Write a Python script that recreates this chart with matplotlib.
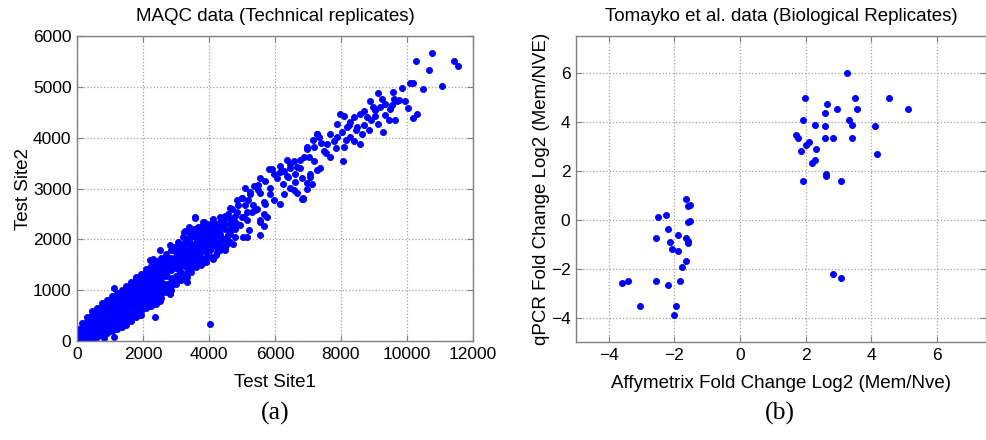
import matplotlib
matplotlib.use("Agg")
import matplotlib.pyplot as plt

# Panel (a): MAQC technical replicates
# dense core of the cloud, column by column (Test Site1, Test Site2)
core_pts = [
    (0, 0), (0, 80), (0, 160), (0, 240),
    (150, 0), (150, 40), (150, 120), (150, 200), (150, 280), (150, 360),
    (300, 0), (300, 80), (300, 160), (300, 240), (300, 320), (300, 400), (300, 480),
    (450, 40), (450, 120), (450, 200), (450, 280), (450, 360), (450, 440), (450, 520), (450, 600),
    (600, 80), (600, 160), (600, 240), (600, 320), (600, 400), (600, 480), (600, 560), (600, 640),
    (750, 120), (750, 200), (750, 280), (750, 360), (750, 440), (750, 520), (750, 600), (750, 680),
    (750, 740),
    (900, 160), (900, 240), (900, 320), (900, 400), (900, 480), (900, 560), (900, 640), (900, 720),
    (900, 800),
    (1050, 200), (1050, 280), (1050, 360), (1050, 440), (1050, 520), (1050, 600), (1050, 680),
    (1050, 760), (1050, 840), (1050, 880),
    (1200, 240), (1200, 320), (1200, 400), (1200, 480), (1200, 560), (1200, 640), (1200, 720),
    (1200, 800), (1200, 880), (1200, 940),
    (1350, 280), (1350, 360), (1350, 440), (1350, 520), (1350, 600), (1350, 680), (1350, 760),
    (1350, 840), (1350, 920), (1350, 1000),
    (1500, 320), (1500, 400), (1500, 480), (1500, 560), (1500, 640), (1500, 720), (1500, 800),
    (1500, 880), (1500, 960), (1500, 1040), (1500, 1090),
    (1650, 400), (1650, 480), (1650, 560), (1650, 640), (1650, 720), (1650, 800), (1650, 880),
    (1650, 960), (1650, 1040), (1650, 1120), (1650, 1170),
    (1800, 480), (1800, 560), (1800, 640), (1800, 720), (1800, 800), (1800, 880), (1800, 960),
    (1800, 1040), (1800, 1120), (1800, 1200), (1800, 1250),
    (1950, 520), (1950, 600), (1950, 680), (1950, 760), (1950, 840), (1950, 920), (1950, 1000),
    (1950, 1080), (1950, 1160), (1950, 1240), (1950, 1320),
    (2100, 640), (2100, 720), (2100, 800), (2100, 880), (2100, 960), (2100, 1040), (2100, 1120),
    (2100, 1200), (2100, 1280), (2100, 1360), (2100, 1410),
    (2250, 680), (2250, 760), (2250, 840), (2250, 920), (2250, 1000), (2250, 1080), (2250, 1160),
    (2250, 1240), (2250, 1320), (2250, 1400), (2250, 1480),
    (2400, 720), (2400, 800), (2400, 880), (2400, 960), (2400, 1040), (2400, 1120), (2400, 1200),
    (2400, 1280), (2400, 1360), (2400, 1440), (2400, 1520), (2400, 1570),
    (2550, 840), (2550, 920), (2550, 1000), (2550, 1080), (2550, 1160), (2550, 1240), (2550, 1320),
    (2550, 1400), (2550, 1480), (2550, 1560), (2550, 1640),
    (2700, 960), (2700, 1040), (2700, 1120), (2700, 1280), (2700, 1360), (2700, 1440),
    (2700, 1520), (2700, 1600), (2700, 1720),
    (2850, 1000), (2850, 1080), (2850, 1160), (2850, 1240), (2850, 1400), (2850, 1480),
    (2850, 1560), (2850, 1640), (2850, 1790),
    (3000, 1120), (3000, 1200), (3000, 1280), (3000, 1440), (3000, 1520), (3000, 1600),
    (3000, 1680), (3000, 1840),
]

# speckled continuation of the core, 3100 to 4800 on Test Site1
band_pts = [
    (3150, 1200), (3150, 1350), (3150, 1500), (3150, 1750),
    (3300, 1300), (3300, 1450), (3300, 1550), (3300, 1700), (3300, 1950),
    (3450, 1350), (3450, 1500), (3450, 1650), (3450, 1850), (3450, 2050),
    (3600, 1450), (3600, 1600), (3600, 1800), (3600, 1900), (3600, 2150),
    (3750, 1500), (3750, 1650), (3750, 1800), (3750, 1950), (3750, 2100),
    (3900, 1550), (3900, 1750), (3900, 1850), (3900, 2100), (3900, 2250),
    (4050, 1650), (4050, 1850), (4050, 1950), (4050, 2300),
    (4200, 1700), (4200, 1900), (4200, 2050), (4200, 2200),
    (4350, 1800), (4350, 1950), (4350, 2100), (4350, 2350),
    (4500, 1850), (4500, 2000), (4500, 2300), (4500, 2450),
    (4650, 1950), (4650, 2100), (4650, 2400),
    (4800, 2050), (4800, 2200), (4800, 2450),
]

# thinner part of the cloud, 2200 to 7300 on Test Site1
mid_pts = [
    (2212, 1598), (2919, 1846), (2818, 941), (2212, 744), (3172, 1256), (3323, 1157), (3374, 1388),
    (2768, 994), (3576, 2425), (3828, 2339), (4687, 2602), (4889, 2667), (3424, 2110), (3222, 2043),
    (2818, 1880), (2515, 1781), (2313, 1618), (4434, 2307), (4636, 2175), (4232, 1978), (4333, 1880),
    (4030, 1781), (3727, 1846), (3525, 1716), (3323, 1650), (3121, 1551), (3828, 1551), (4131, 1618),
    (4485, 1781), (4737, 1913), (3020, 1716), (2717, 1650), (3929, 2043), (3626, 1978), (4182, 2142),
    (4788, 2339), (3424, 1913), (2919, 1781), (2616, 1520), (2414, 1453),
    (3100, 1400), (3200, 1500), (3300, 1800), (3400, 1450), (3500, 1900), (3600, 1700), (3700, 2100),
    (3800, 1800), (3900, 1900), (4000, 2000), (4100, 1850), (4200, 2300), (4300, 2150), (4400, 2000),
    (4500, 2200), (3250, 1650), (3450, 1750), (3650, 1550), (3850, 2000), (4050, 2100), (4250, 1750),
    (4450, 2400), (4650, 2300), (4550, 2050), (3150, 1900), (3350, 2000), (3550, 2200), (3750, 2250),
    (3150, 1650), (3250, 1850), (3400, 1600), (3500, 1450), (3600, 2050), (3700, 1700), (3800, 2000),
    (3950, 2200), (4100, 2000), (4350, 2250), (3050, 1950), (3400, 2250),
    (3273, 2161), (4131, 2405), (4333, 2437), (4636, 2622), (4990, 2819), (5242, 2929), (5495, 3061),
    (5192, 2766), (4838, 2535), (4586, 2504), (4030, 2209), (3828, 2142), (4232, 2110), (4737, 2240),
    (4939, 2274), (5141, 2372), (5394, 2569), (5545, 2372), (5747, 2437), (5697, 2701), (5848, 2897),
    (5899, 3389), (6152, 3323), (6354, 3553), (6404, 3224), (6253, 3094), (6606, 3126), (6808, 2799),
    (6960, 3783), (7162, 3947), (7263, 4078), (7061, 3224), (7263, 3356), (6657, 3421), (6455, 3488),
    (6758, 3553), (5495, 2963), (5343, 2667), (5091, 2667), (4838, 2766), (4990, 2437), (5293, 2535),
    (5545, 2077), (5141, 2043), (4586, 2077), (3929, 2307), (3677, 2240), (3475, 2175),
    (6848, 2803), (7121, 3099), (6970, 3000), (6566, 2967), (6162, 2704), (5960, 2770), (5657, 2737),
    (5677, 2507), (5535, 2342), (5677, 2257), (5455, 2605), (5152, 2539), (5051, 2441), (5030, 2046),
    (5202, 2178), (4848, 2309), (4646, 2178), (4545, 1914), (4343, 2046), (4242, 1849), (4141, 2211),
    (3939, 2046), (3838, 2342), (3586, 2441), (3737, 1914), (3939, 1651), (3535, 1586), (3333, 1257),
    (3253, 2145), (3131, 1783), (2828, 928), (2727, 1355), (2525, 1125), (2525, 796), (2222, 697),
]

# upper end of the cloud
top_pts = [
    (10778, 5664), (10293, 5500), (11424, 5500), (11545, 5414), (10687, 5336), (10101, 5072),
    (10182, 5072), (10505, 4961), (11081, 5020), (9859, 4974), (9596, 4895), (9141, 4882),
    (9253, 4763), (9626, 4763), (9697, 4730), (9768, 4743), (9949, 4717), (10030, 4586),
    (10323, 4467), (10182, 4388), (9465, 4349), (9646, 4349), (9263, 4118), (8990, 4612),
    (8889, 4730), (9192, 4599), (9495, 4566), (9343, 4664), (8687, 4533), (8586, 4467),
    (8788, 4401), (9040, 4434), (9141, 4270), (8384, 4401), (8283, 4303), (8485, 4204),
    (8636, 4072), (8586, 3875), (8081, 4434), (7980, 4467), (7879, 4270), (8182, 4204),
    (8030, 4105), (7879, 4007), (8283, 4007), (8384, 3941), (7778, 3941), (8081, 3809),
    (7576, 3875), (7677, 4072), (7273, 4072), (7323, 4007), (7172, 3809), (7475, 3743),
    (6970, 3809), (7020, 3612), (6869, 3612), (7172, 3546), (7374, 3414), (7677, 3612),
    (8061, 3533), (6768, 3414), (6566, 3546), (6465, 3414), (6616, 3283), (6364, 3250),
    (6263, 3349), (6162, 3447), (6061, 3217), (6818, 3217), (6970, 3118), (7071, 3283),
    (6838, 2822), (5960, 3283), (5808, 3382), (5556, 3217), (5707, 3151), (5354, 3053),
    (5101, 3020), (5000, 2822), (5253, 2888), (5556, 2921), (5859, 3020), (6465, 3020),
    (6667, 2921), (6263, 2888),
    (8900, 4350), (9050, 4550), (8700, 4250), (8450, 4150), (8150, 3950), (7850, 3800),
    (7550, 3700), (7400, 3900), (8250, 4250), (9350, 4450), (9550, 4650), (8850, 4150),
]

# stray points away from the diagonal
outlier_pts = [(2374, 467), (4040, 336), (1111, 1039), (1111, 86), (828, 66)]

# Panel (b): Tomayko et al. biological replicates
affy = [3.27, 1.98, 2.64, 3.51, 4.55, 5.11, 2.96, 3.57, 2.59, 1.92, 3.33, 2.29, 3.40, 2.58,
        4.13, 1.71, 1.78, 2.58, 2.84, 3.40, 2.10, 2.02, 2.31, 1.86, 4.19, 2.29, 2.20, 2.63,
        2.63, 1.92, 3.08,
        -1.65, -1.52, -1.58, -2.50, -2.26, -1.58, -1.52, -2.19, -2.56, -1.89, -1.64, -1.58,
        -1.58, -2.13, -2.07, -1.89, -1.64, -1.77, -2.56, -1.83, -3.61, -3.42, -2.19, -3.05,
        -1.95, -2.01, 2.83, 3.09]
qpcr = [6.00, 4.98, 4.71, 4.98, 4.98, 4.53, 4.53, 4.53, 4.35, 4.08, 4.08, 3.89, 3.89, 3.81,
        3.81, 3.45, 3.35, 3.35, 3.35, 3.35, 3.18, 3.04, 2.89, 2.80, 2.70, 2.43, 2.32, 1.88,
        1.78, 1.59, 1.59,
        0.84, 0.61, 0.54, 0.10, 0.19, -0.08, -0.07, -0.38, -0.75, -0.63, -0.75, -0.86,
        -0.94, -0.93, -1.20, -1.29, -1.67, -1.95, -2.49, -2.49, -2.59, -2.49, -2.68, -3.51,
        -3.51, -3.89, -2.23, -2.39]

plt.rcParams['font.family'] = ['Liberation Sans', 'DejaVu Sans']

fig = plt.figure(figsize=(9.87, 4.4), dpi=100)
ax1 = fig.add_axes([0.078, 0.225, 0.401, 0.693])
ax2 = fig.add_axes([0.5836, 0.2227, 0.4154, 0.695])

dot = dict(linestyle='none', marker='o', ms=4.4, color='#0000ff', mec='#0000ff', mew=0.6)

for pts in (core_pts, band_pts, mid_pts, top_pts, outlier_pts):
    xs, ys = zip(*pts)
    ax1.plot(xs, ys, **dot)
ax2.plot(affy, qpcr, **dot)

ax1.set_xlim(0, 12000)
ax1.set_ylim(0, 6000)
ax1.set_xticks(range(0, 12001, 2000))
ax1.set_yticks(range(0, 6001, 1000))
ax1.set_title('MAQC data (Technical replicates)', fontsize=13.5, pad=11)
ax1.set_xlabel('Test Site1', fontsize=13.5, labelpad=9)
ax1.set_ylabel('Test Site2', fontsize=13.5, labelpad=0.5)

ax2.set_xlim(-5, 7.5)
ax2.set_ylim(-5, 7.5)
ax2.set_xticks([-4, -2, 0, 2, 4, 6])
ax2.set_yticks([-4, -2, 0, 2, 4, 6])
ax2.set_title('Tomayko et al. data (Biological Replicates)', fontsize=13.5, pad=11)
ax2.set_xlabel('Affymetrix Fold Change Log2 (Mem/Nve)', fontsize=13.5, labelpad=9)
ax2.set_ylabel('qPCR Fold Change Log2 (Mem/NVE)', fontsize=13.5, labelpad=0.5)

for ax in (ax1, ax2):
    ax.grid(True, linestyle=':', color='#a0a0a0', linewidth=0.9)
    ax.set_axisbelow(True)
    ax.tick_params(direction='in', length=4, width=0.8, color='#808080',
                   top=True, right=True, labelsize=12.5, pad=4)
    for s in ax.spines.values():
        s.set_color('#808080')
        s.set_linewidth(1.0)

fig.text(275 / 987, 1 - 413 / 440, '(a)', ha='center', va='center',
         fontsize=18.5, family='Liberation Serif')
fig.text(780 / 987, 1 - 413 / 440, '(b)', ha='center', va='center',
         fontsize=18.5, family='Liberation Serif')

fig.savefig('out.png', dpi=100)
